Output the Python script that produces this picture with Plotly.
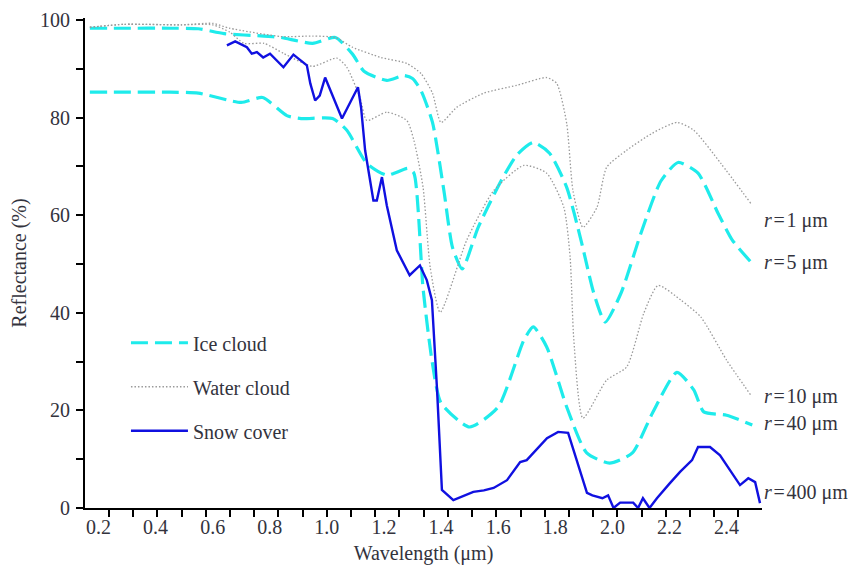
import plotly.graph_objects as go

# ---------------- data ----------------
ice5_x = [0.17, 0.30, 0.45, 0.55, 0.64, 0.78, 0.84, 0.95, 1.03, 1.09, 1.13, 1.21, 1.27, 1.30, 1.33, 1.37,
          1.41, 1.44, 1.474, 1.53, 1.61, 1.665, 1.723, 1.78, 1.84, 1.89, 1.935, 1.975, 2.03, 2.10,
          2.17, 2.23, 2.30, 2.37, 2.42, 2.485]
ice5_y = [98.3, 98.3, 98.3, 98.2, 97.2, 96.7, 96.4, 95.2, 96.4, 93.0, 89.5, 87.6, 88.6, 88.0, 85.5, 79.0,
          65.0, 53.4, 49.0, 57.5, 67.0, 72.3, 74.9, 72.7, 65.7, 54.9, 44.0, 38.1, 44.0, 56.3,
          67.0, 70.8, 68.6, 60.4, 54.9, 50.4]

ice40_x = [0.17, 0.30, 0.45, 0.55, 0.70, 0.775, 0.86, 0.91, 1.02, 1.07, 1.14, 1.21, 1.285, 1.305, 1.337,
           1.368, 1.40, 1.50, 1.60, 1.69, 1.723, 1.77, 1.84, 1.91, 1.99, 2.07, 2.14, 2.226, 2.285,
           2.32, 2.40, 2.49]
ice40_y = [85.2, 85.2, 85.2, 85.0, 83.1, 84.1, 80.4, 79.8, 79.8, 77.4, 70.6, 68.2, 69.6, 68.6, 45.0,
           30.3, 21.5, 16.6, 20.7, 34.4, 37.1, 33.0, 20.7, 11.3, 9.2, 11.3, 19.4, 27.8, 24.2,
           19.7, 19.0, 17.0]

wat1_x = [0.17, 0.29, 0.49, 0.60, 0.66, 0.84, 0.95, 1.03, 1.09, 1.19, 1.28, 1.33, 1.37, 1.40, 1.455,
          1.55, 1.665, 1.77, 1.805, 1.84, 1.862, 1.897, 1.946, 1.98, 2.05, 2.14, 2.226, 2.285, 2.38, 2.485]
wat1_y = [98.5, 99.1, 99.0, 99.3, 98.3, 96.6, 96.7, 96.4, 94.4, 92.3, 91.1, 89.0, 85.0, 79.0, 82.1,
          85.0, 86.6, 88.2, 87.0, 78.8, 65.0, 57.5, 61.6, 69.8, 73.3, 76.8, 79.0, 77.4, 70.6, 62.4]

wat10_x = [0.17, 0.29, 0.49, 0.60, 0.66, 0.71, 0.78, 0.85, 0.95, 1.035, 1.07, 1.116, 1.14, 1.21, 1.28,
           1.305, 1.337, 1.362, 1.397, 1.49, 1.584, 1.69, 1.77, 1.83, 1.852, 1.865, 1.897, 1.98,
           2.05, 2.11, 2.16, 2.24, 2.31, 2.40, 2.485]
wat10_y = [98.5, 99.1, 99.0, 99.0, 97.5, 95.2, 95.2, 93.1, 90.5, 92.2, 90.3, 84.1, 79.4, 81.1, 79.4,
           75.3, 65.7, 49.3, 40.1, 54.9, 65.0, 70.2, 68.6, 61.6, 51.4, 34.4, 18.4, 26.2,
           28.9, 39.9, 45.6, 42.6, 39.1, 30.3, 23.1]

snow_x = [0.65, 0.679, 0.72, 0.737, 0.755, 0.777, 0.801, 0.848, 0.883, 0.93, 0.942, 0.959, 0.975, 0.994,
          1.053, 1.109, 1.12, 1.134, 1.163, 1.175, 1.193, 1.21, 1.245, 1.29, 1.326, 1.35, 1.368, 1.386,
          1.403, 1.443, 1.513, 1.55, 1.584, 1.631, 1.677, 1.70, 1.771, 1.81, 1.845, 1.887, 1.911,
          1.93, 1.946, 1.965, 1.985, 2.004, 2.027, 2.073, 2.09, 2.107, 2.13, 2.156, 2.20, 2.237,
          2.279, 2.30, 2.342, 2.377, 2.447, 2.476, 2.50, 2.517]
snow_y = [94.8, 95.6, 94.4, 93.1, 93.4, 92.3, 93.1, 90.3, 92.9, 90.7, 87.0, 83.5, 84.5, 88.2,
          79.8, 86.2, 82.0, 73.3, 63.0, 63.0, 67.8, 62.0, 52.8, 47.7, 49.7, 46.7, 42.6, 24.2,
          3.7, 1.6, 3.3, 3.6, 4.1, 5.7, 9.4, 9.8, 14.3, 15.6, 15.4, 7.8, 3.1,
          2.6, 2.3, 2.0, 2.6, 0.0, 1.1, 1.1, 0.0, 2.0, 0.0, 2.0, 5.0, 7.4,
          9.8, 12.5, 12.5, 10.8, 4.7, 6.1, 5.3, 1.0]

x_ticks = [0.2, 0.4, 0.6, 0.8, 1.0, 1.2, 1.4, 1.6, 1.8, 2.0, 2.2, 2.4]
x_tick_text = ["0.2", "0.4", "0.6", "0.8", "1.0", "1.2", "1.4", "1.6", "1.8", "2.0", "2.2", "2.4"]
y_ticks = [0, 20, 40, 60, 80, 100]

labels = ["<i>r</i>\u200a=\u200a1 \u03bcm", "<i>r</i>\u200a=\u200a5 \u03bcm", "<i>r</i>\u200a=\u200a10 \u03bcm",
          "<i>r</i>\u200a=\u200a40 \u03bcm", "<i>r</i>\u200a=\u200a400 \u03bcm"]
label_y = [59.0, 50.4, 22.9, 17.4, 3.1]

# ---------------- figure ----------------
CYAN = "#1EEBEB"
GRAY = "#9A9A9A"
BLUE = "#1010E0"
TXT = "#33333d"
FONT = "Liberation Serif"
FS = 20
Y_MAX = 100.4

fig = go.Figure()
ice_line = dict(color=CYAN, width=3.2, dash="17px,7px", shape="spline", smoothing=0.6)
wat_line = dict(color=GRAY, width=1.3, dash="1.5px,2px", shape="spline", smoothing=0.6)

fig.add_trace(go.Scatter(x=ice5_x, y=ice5_y, mode="lines", line=ice_line, name="Ice cloud",
                         legendgroup="ice", showlegend=True))
fig.add_trace(go.Scatter(x=ice40_x, y=ice40_y, mode="lines", line=ice_line, name="Ice cloud",
                         legendgroup="ice", showlegend=False))
fig.add_trace(go.Scatter(x=wat1_x, y=wat1_y, mode="lines", line=wat_line, name="Water cloud",
                         legendgroup="wat", showlegend=True))
fig.add_trace(go.Scatter(x=wat10_x, y=wat10_y, mode="lines", line=wat_line, name="Water cloud",
                         legendgroup="wat", showlegend=False))
fig.add_trace(go.Scatter(x=snow_x, y=snow_y, mode="lines", line=dict(color=BLUE, width=2.4),
                         name="Snow cover", legendgroup="snow", showlegend=True))

for t, yv in zip(labels, label_y):
    fig.add_annotation(x=1.0, y=yv / Y_MAX, xref="paper", yref="paper", xshift=0, text=t,
                       showarrow=False, xanchor="left", yanchor="middle",
                       font=dict(family=FONT, size=FS, color=TXT))

fig.update_layout(
    width=848, height=557,
    margin=dict(l=77, r=94, t=10, b=57),
    paper_bgcolor="white", plot_bgcolor="white",
    font=dict(family=FONT, size=FS, color=TXT),
    legend=dict(x=0.0605, y=0.377, xanchor="left", yanchor="top", bgcolor="rgba(0,0,0,0)",
                font=dict(family=FONT, size=FS, color=TXT), tracegroupgap=15,
                itemwidth=57),
    showlegend=True,
)
fig.update_xaxes(range=[0.153, 2.524], tickmode="array", tickvals=x_ticks, ticktext=x_tick_text,
                 ticks="", showgrid=False, zeroline=False, showline=True, linecolor="black", linewidth=2,
                 automargin=False,
                 tickfont=dict(family=FONT, size=FS, color=TXT),
                 minor=dict(ticks="outside", tickmode="linear", tick0=1.0, dtick=0.0848,
                            ticklen=7, tickwidth=2, tickcolor="black", showgrid=False),
                 title=dict(text="Wavelength (\u03bcm)", font=dict(family=FONT, size=FS, color=TXT),
                            standoff=13))
fig.update_yaxes(range=[0, Y_MAX], tickmode="array", tickvals=y_ticks, ticks="outside", ticklen=7,
                 tickwidth=2, tickcolor="black", showgrid=False, zeroline=False, showline=True,
                 linecolor="black", linewidth=2, automargin=False, ticklabelstandoff=2,
                 tickfont=dict(family=FONT, size=FS, color=TXT),
                 minor=dict(ticks="outside", dtick=10, ticklen=7, tickwidth=2, tickcolor="black",
                            showgrid=False),
                 title=dict(text="Reflectance (%)", font=dict(family=FONT, size=FS, color=TXT),
                            standoff=12))

fig.write_html("out.html")
